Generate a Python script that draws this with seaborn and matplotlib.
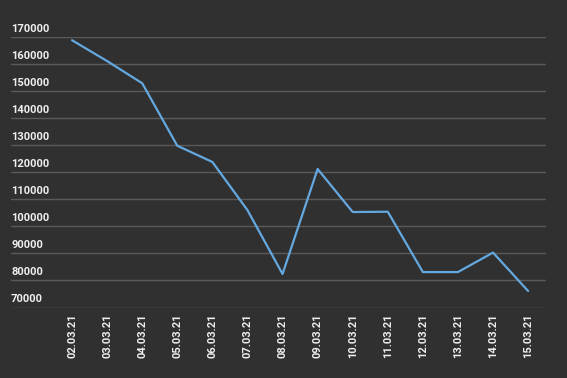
import matplotlib
matplotlib.use("Agg")
import matplotlib.pyplot as plt
import matplotlib.transforms as mtransforms
import seaborn as sns
import pandas as pd

dates = ["02.03.21", "03.03.21", "04.03.21", "05.03.21", "06.03.21", "07.03.21",
         "08.03.21", "09.03.21", "10.03.21", "11.03.21", "12.03.21", "13.03.21",
         "14.03.21", "15.03.21"]
values = [168800, 161100, 152900, 129800, 123800, 106000, 82400, 121200,
          105300, 105400, 83100, 83100, 90300, 76100]
yticks = [70000, 80000, 90000, 100000, 110000, 120000, 130000, 140000,
          150000, 160000, 170000]

bg = "#303030"
sns.set_theme(style="dark")
plt.rcParams['font.family'] = ['Roboto', 'DejaVu Sans']

df = pd.DataFrame({"idx": range(len(dates)), "value": values})

fig = plt.figure(figsize=(5.67, 3.78), dpi=100, facecolor=bg)
ax = fig.add_axes([11/567, (378-307.5)/378, 535/567, (307.5-37)/378])
ax.set_facecolor(bg)

sns.lineplot(data=df, x="idx", y="value", ax=ax, color="#64a8e0", linewidth=1.6)

ax.set_xlim(-1.74, 13.51)
ax.set_ylim(70000, 170000)
ax.set_yticks(yticks)
ax.yaxis.grid(True, color="#5a5a5a", linewidth=1.0)
ax.xaxis.grid(False)
ax.set_axisbelow(True)
ax.tick_params(axis="y", length=0, labelleft=False)
for s in ax.spines.values():
    s.set_visible(False)

trans = mtransforms.blended_transform_factory(ax.transAxes, ax.transData)
for v in yticks:
    t = ax.text(0.0, v, f"{v}", ha="left", va="bottom",
                color="#eeeeee", fontsize=8, fontweight="bold")
    t.set_transform(trans + mtransforms.ScaledTranslation(0, 3/100, fig.dpi_scale_trans))

ax.set_xticks(range(len(dates)))
ax.set_xticklabels(dates, rotation=90, color="#eeeeee", fontsize=8, fontweight="bold")
ax.tick_params(axis="x", length=0, pad=4)
ax.set_xlabel("")
ax.set_ylabel("")

fig.savefig("out.png", dpi=100, facecolor=bg)
